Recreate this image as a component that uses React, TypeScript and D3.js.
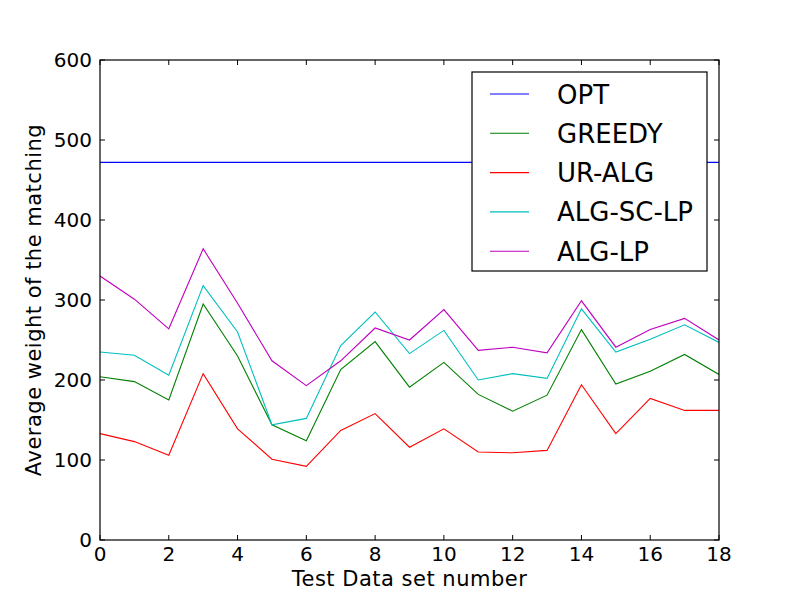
import React from 'react';
import * as d3 from 'd3';

const xValues = d3.range(0, 19);
const optValues = Array(19).fill(472);
const greedyValues = [204, 198, 175, 295, 230, 144, 124, 213, 248, 191, 222, 182, 161, 181, 263, 195, 211, 232, 207];
const urAlgValues = [133, 123, 106, 208, 139, 101, 92, 137, 158, 116, 139, 110, 109, 112, 194, 133, 177, 162, 162];
const algScLpValues = [235, 231, 206, 318, 260, 144, 152, 243, 285, 233, 262, 200, 208, 202, 289, 235, 251, 269, 247];
const algLpValues = [330, 301, 264, 364, 296, 224, 193, 224, 265, 250, 288, 237, 241, 234, 299, 241, 263, 277, 250];

const seriesNames = ['OPT', 'GREEDY', 'UR-ALG', 'ALG-SC-LP', 'ALG-LP'];
const seriesColors = ['#0000ff', '#008000', '#ff0000', '#00bfbf', '#bf00bf'];
const seriesData = [optValues, greedyValues, urAlgValues, algScLpValues, algLpValues];

const xTicks = [0, 2, 4, 6, 8, 10, 12, 14, 16, 18];
const yTicks = [0, 100, 200, 300, 400, 500, 600];

const xLabel = 'Test Data set number';
const yLabel = 'Average weight of the matching';

const FONT = "'DejaVu Sans', sans-serif";

export default function App() {
  const left = 100, right = 719, top = 60, bottom = 540;
  const x = d3.scaleLinear().domain([0, 18]).range([left, right]);
  const y = d3.scaleLinear().domain([0, 600]).range([bottom, top]);
  const line = d3.line<number>().x((_, i) => x(xValues[i])).y((d) => y(d));
  const tick = 5;

  const legX = 472, legY = 72, legW = 235, legH = 199;
  const rowY0 = 94, rowStep = 39.3;

  return (
    <svg width={800} height={600} style={{ position: 'absolute', left: 0, top: 0, background: '#fff' }} fontFamily={FONT}>
      <rect x={0} y={0} width={800} height={600} fill="#fff" />
      <defs>
        <clipPath id="plotclip">
          <rect x={left} y={top} width={right - left} height={bottom - top} />
        </clipPath>
      </defs>
      <g clipPath="url(#plotclip)">
        {seriesData.map((s, i) => (
          <path key={seriesNames[i]} d={line(s) || ''} fill="none" stroke={seriesColors[i]} strokeWidth={1.1} />
        ))}
      </g>
      {/* ticks */}
      {xTicks.map((t) => (
        <g key={'xt' + t}>
          <line x1={x(t)} x2={x(t)} y1={bottom} y2={bottom - tick} stroke="#000" strokeWidth={1} />
          <line x1={x(t)} x2={x(t)} y1={top} y2={top + tick} stroke="#000" strokeWidth={1} />
          <text x={x(t)} y={561} textAnchor="middle" fontSize={20} fill="#000">{t}</text>
        </g>
      ))}
      {yTicks.map((t) => (
        <g key={'yt' + t}>
          <line x1={left} x2={left + tick} y1={y(t)} y2={y(t)} stroke="#000" strokeWidth={1} />
          <line x1={right} x2={right - tick} y1={y(t)} y2={y(t)} stroke="#000" strokeWidth={1} />
          <text x={92} y={y(t) + 7} textAnchor="end" fontSize={20} fill="#000">{t}</text>
        </g>
      ))}
      <rect x={left} y={top} width={right - left} height={bottom - top} fill="none" stroke="#000" strokeWidth={1.2} />
      {/* legend */}
      <rect x={legX} y={legY} width={legW} height={legH} fill="#fff" stroke="#000" strokeWidth={1.2} />
      {seriesNames.map((n, i) => (
        <g key={'leg' + n}>
          <line x1={490} x2={529} y1={rowY0 + i * rowStep} y2={rowY0 + i * rowStep} stroke={seriesColors[i]} strokeWidth={1.1} />
          <text x={557} y={rowY0 + i * rowStep + 9.5} fontSize={26} fill="#000">{n}</text>
        </g>
      ))}
      <text x={409.5} y={586} textAnchor="middle" fontSize={21} letterSpacing={0.5} fill="#000">{xLabel}</text>
      <text transform="translate(41,300) rotate(-90)" textAnchor="middle" fontSize={21} letterSpacing={0.5} fill="#000">{yLabel}</text>
    </svg>
  );
}
